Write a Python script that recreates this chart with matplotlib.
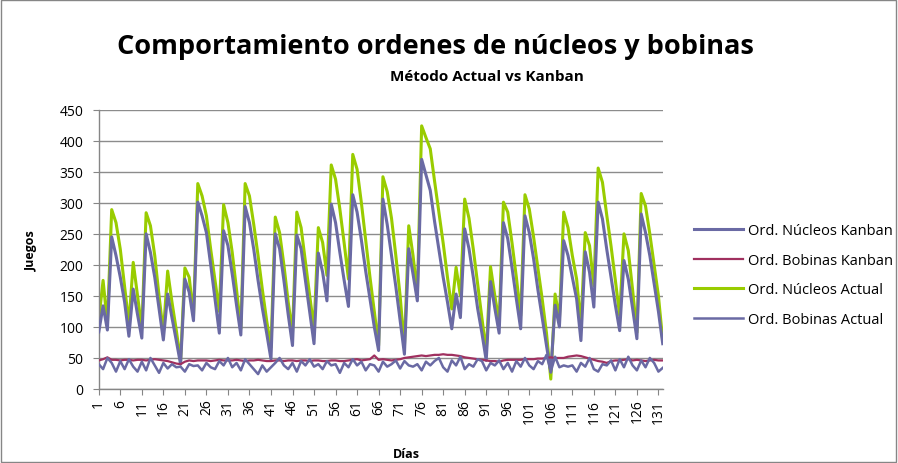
import matplotlib
matplotlib.use("Agg")
import matplotlib.pyplot as plt
import numpy as np

plt.rcParams['font.family'] = ['Open Sans', 'DejaVu Sans']

days = list(range(1, 133))

nucleos_kanban = [
    92, 134, 95, 245, 215, 180, 140, 85, 161, 120,
    82, 250, 220, 180, 130, 79, 153, 115, 78, 40,
    177, 156, 110, 301, 279, 252, 200, 145, 90, 255,
    231, 185, 135, 87, 294, 268, 225, 175, 130, 90,
    48, 250, 226, 175, 120, 70, 248, 226, 175, 125,
    73, 219, 188, 142, 298, 268, 220, 175, 133, 313,
    285, 240, 190, 145, 100, 62, 306, 265, 215, 165,
    110, 56, 226, 185, 142, 370, 345, 320, 270, 225,
    180, 140, 97, 153, 115, 258, 226, 180, 130, 90,
    46, 173, 130, 90, 268, 242, 195, 145, 97, 279,
    252, 210, 160, 115, 70, 27, 135, 100, 239, 215,
    180, 145, 78, 221, 188, 132, 301, 274, 225, 180,
    135, 94, 207, 177, 130, 81, 282, 252, 215, 170,
    125, 73,
]

bobinas_kanban = [
    46, 48, 51, 47, 47, 46, 47, 47, 46, 47,
    47, 46, 47, 48, 47, 46, 45, 43, 41, 40,
    44, 46, 45, 46, 46, 46, 45, 46, 47, 46,
    46, 46, 47, 46, 45, 46, 46, 47, 46, 45,
    45, 46, 46, 45, 46, 46, 45, 46, 46, 45,
    46, 46, 45, 45, 46, 46, 45, 45, 46, 47,
    48, 46, 47, 48, 54, 47, 48, 47, 46, 47,
    48, 50, 51, 52, 53, 54, 53, 54, 55, 55,
    56, 55, 55, 54, 53, 51, 50, 49, 48, 47,
    46, 45, 45, 44, 46, 47, 47, 47, 47, 48,
    48, 48, 49, 49, 50, 51, 50, 50, 50, 52,
    53, 54, 53, 51, 49, 47, 45, 44, 42, 45,
    46, 46, 47, 48, 46, 47, 46, 45, 46, 47,
    46, 46,
]

nucleos_actual = [
    112, 175, 105, 289, 268, 225, 165, 105, 204, 150,
    97, 284, 263, 215, 150, 91, 190, 140, 95, 45,
    195, 180, 118, 331, 311, 279, 225, 175, 125, 297,
    268, 220, 160, 97, 331, 311, 265, 215, 160, 110,
    67, 277, 252, 200, 140, 91, 285, 260, 205, 150,
    97, 260, 236, 183, 361, 338, 290, 235, 177, 378,
    354, 300, 240, 180, 125, 70, 342, 318, 275, 215,
    150, 68, 263, 215, 153, 424, 405, 387, 335, 285,
    235, 180, 129, 196, 150, 306, 275, 225, 170, 115,
    59, 197, 150, 108, 301, 285, 235, 180, 118, 313,
    290, 245, 195, 145, 90, 16, 153, 113, 285, 260,
    215, 177, 102, 252, 231, 166, 356, 333, 280, 230,
    175, 118, 250, 223, 160, 91, 315, 295, 250, 200,
    150, 78,
]

bobinas_actual = [
    40, 32, 50, 42, 28, 45, 32, 48, 36, 28,
    44, 30, 50, 38, 26, 42, 33, 40, 35, 36,
    28, 40, 37, 38, 30, 42, 35, 32, 45, 38,
    50, 35, 42, 30, 48, 40, 32, 24, 38, 28,
    35, 42, 50, 38, 32, 42, 28, 45, 38, 48,
    36, 40, 32, 45, 38, 40, 26, 42, 35, 48,
    38, 44, 30, 40, 38, 28, 44, 36, 40, 46,
    33, 45, 38, 36, 40, 30, 44, 38, 45, 50,
    35, 28, 46, 38, 52, 32, 40, 36, 48, 45,
    30, 42, 38, 46, 32, 42, 28, 45, 36, 50,
    38, 32, 45, 40, 55, 28, 52, 35, 38, 36,
    38, 28, 42, 36, 50, 32, 28, 40, 38, 46,
    30, 48, 35, 52, 38, 30, 46, 35, 50, 42,
    28, 34,
]

series_labels = ["Ord. Núcleos Kanban", "Ord. Bobinas Kanban",
                 "Ord. Núcleos Actual", "Ord. Bobinas Actual"]
title = "Comportamiento ordenes de núcleos y bobinas"
subtitle = "Método Actual vs Kanban"
xlabel = "Días"
ylabel = "Juegos"
yticks = list(range(0, 451, 50))
xticks = list(range(1, 133, 5))

fig = plt.figure(figsize=(8.98, 4.64), dpi=100)
ax = fig.add_axes([0.110, 0.1595, 0.628, 0.6019])

blue = '#6A6AA4'
ax.plot(days, nucleos_kanban, color=blue, lw=2.2, label=series_labels[0], zorder=3)
ax.plot(days, bobinas_kanban, color='#A0305F', lw=1.6, label=series_labels[1], zorder=3)
ax.plot(days, nucleos_actual, color='#99CC00', lw=2.2, label=series_labels[2], zorder=2)
ax.plot(days, bobinas_actual, color=blue, lw=1.8, label=series_labels[3], zorder=3)

ax.set_xlim(1, 132)
ax.set_ylim(0, 450)
ax.set_yticks(yticks)
ax.set_xticks(xticks)
ax.set_xticklabels([str(t) for t in xticks], rotation=90, fontsize=10)
ax.tick_params(axis='y', labelsize=10, length=4, color='#868686', pad=7)
ax.tick_params(axis='x', length=4, color='#868686', pad=3)
ax.grid(axis='y', color='#8C8C8C', lw=1.0)
ax.set_axisbelow(True)
for s in ['top', 'right']:
    ax.spines[s].set_visible(False)
for s in ['left', 'bottom']:
    ax.spines[s].set_color('#868686')
    ax.spines[s].set_linewidth(1.0)

fig.text(0.485, 0.898, title, ha='center', va='center', fontsize=19.5, fontweight='bold')
fig.text(0.542, 0.835, subtitle, ha='center', va='center', fontsize=11, fontweight='bold')
fig.text(0.453, 0.02, xlabel, ha='center', va='center', fontsize=9, fontweight='bold')
fig.text(0.035, 0.46, ylabel, ha='center', va='center', fontsize=9, fontweight='bold', rotation=90)

fig.legend(loc='center left', bbox_to_anchor=(0.758, 0.405), frameon=False,
           fontsize=10.5, handlelength=3.4, labelspacing=1.0, handletextpad=0.3)

border = plt.Rectangle((0.001, 0.002), 0.997, 0.996, transform=fig.transFigure,
                       fill=False, edgecolor='#868686', lw=1.0)
fig.patches.append(border)

fig.savefig('out.png', dpi=100)
